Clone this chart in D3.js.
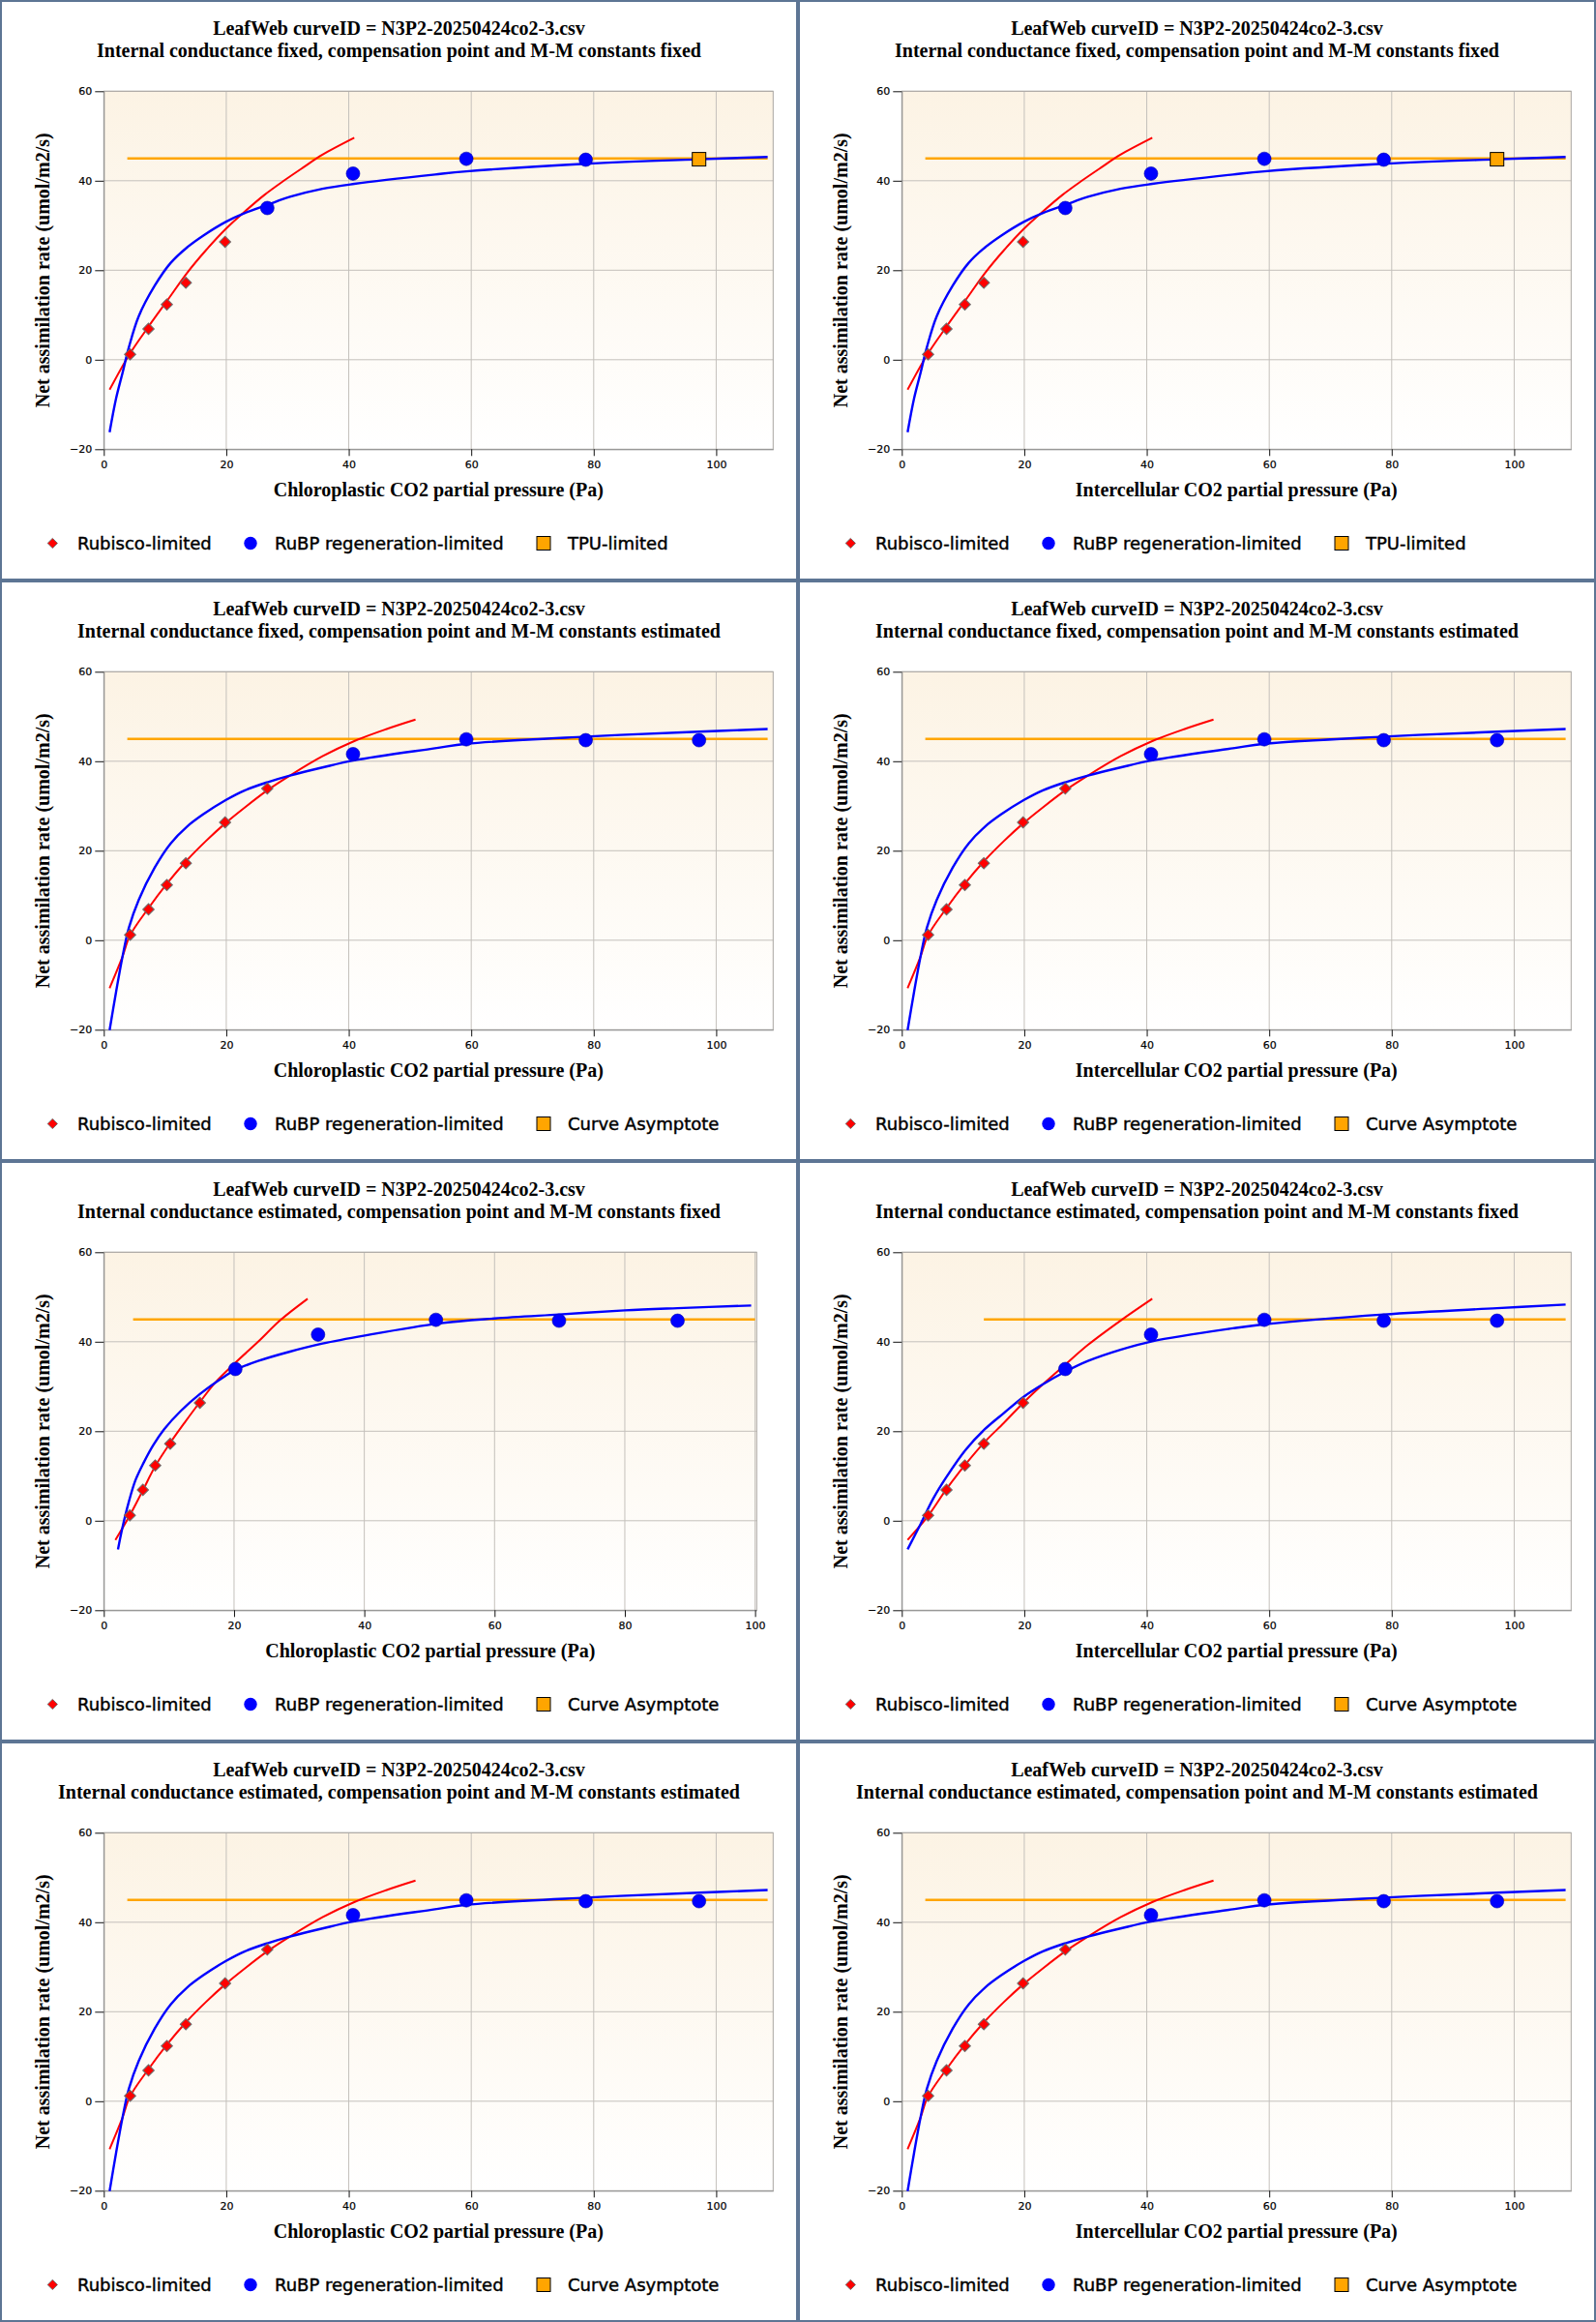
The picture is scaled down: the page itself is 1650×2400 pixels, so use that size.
<!DOCTYPE html>
<html><head><meta charset="utf-8">
<script src="https://cdn.jsdelivr.net/npm/d3@7"></script>
<style>body{margin:0;background:#fff}</style>
</head><body><svg id="c" width="1650" height="2400"></svg>
<script>
// ---------- data ----------
const yTicks = [-20, 0, 20, 40, 60];
const xTicks = [0, 20, 40, 60, 80, 100];

// Set A: everything fixed (row 1)
const rubiscoA = [[4.3,1.2],[7.3,6.9],[10.3,12.35],[13.4,17.2],[19.8,26.35]];
const rubpA = [[26.7,33.9],[40.7,41.6],[59.2,44.9],[78.7,44.7]];
const tpuA = [[97.2,44.8]];
const rubiscoCurveA = [[0.95,-6.7],[4.1,1.0],[7.3,7.4],[10.4,13.3],[13.6,19.4],[16.7,24.5],[19.9,29.2],[23.1,33.2],[26.2,36.8],[29.4,40.0],[32.5,42.9],[35.7,45.8],[40.9,49.6]];
const rubpCurveA = [[0.95,-16.2],[2.0,-8.7],[3.05,-3.0],[4.1,2.8],[5.7,9.7],[8.3,16.5],[10.9,21.6],[13.6,25.1],[16.2,27.7],[19.9,30.8],[23.05,32.8],[26.7,34.6],[30.4,36.4],[35.7,38.2],[40.9,39.3],[54.1,41.4],[59.2,42.1],[78.7,43.8],[97.2,44.8],[108.4,45.3]];
const asymptoteA = [[3.84,45.0],[108.4,45.0]];

// Set B: compensation point and M-M constants estimated (rows 2 and 4)
const rubiscoB = [[4.3,1.2],[7.3,6.9],[10.3,12.35],[13.4,17.2],[19.8,26.35],[26.7,33.9]];
const rubpB = [[40.7,41.6],[59.2,44.9],[78.7,44.7],[97.2,44.7]];
const rubiscoCurveB = [[0.95,-10.7],[3.05,-3.7],[4.26,1.0],[7.26,7.1],[10.4,12.8],[13.6,17.9],[16.7,22.2],[19.9,26.2],[23.05,29.7],[26.7,33.5],[30.4,36.8],[35.7,41.1],[40.9,44.5],[46.2,47.2],[50.9,49.3]];
const rubpCurveB = [[0.95,-20.1],[2.0,-11.6],[3.05,-3.7],[4.1,2.8],[5.7,9.0],[8.3,16.2],[10.9,21.6],[13.6,25.4],[16.2,28.1],[19.9,31.3],[23.05,33.5],[26.7,35.3],[30.4,36.8],[35.7,38.6],[40.9,40.2],[54.1,42.9],[59.2,43.9],[78.7,45.5],[97.2,46.6],[108.4,47.2]];
const asymptoteB = [[3.84,45.0],[108.4,45.0]];

// Set C: internal conductance estimated, chloroplastic (row 3 left)
const rubiscoC = [[4.0,1.2],[6.0,6.9],[7.9,12.35],[10.2,17.2],[14.75,26.35]];
const rubpC = [[20.2,33.9],[32.9,41.6],[51.0,44.9],[69.9,44.7],[88.1,44.7]];
const rubiscoCurveC = [[1.78,-4.3],[4.0,1.2],[6.0,6.8],[7.9,12.2],[10.2,17.4],[12.5,22.1],[14.75,26.5],[17.2,31.0],[20.2,35.3],[23.7,40.0],[27.1,44.8],[31.3,49.6]];
const rubpCurveC = [[2.18,-6.4],[2.87,-1.5],[3.86,4.3],[4.85,9.0],[6.1,12.9],[7.6,16.9],[9.3,20.5],[11.8,24.5],[14.75,28.3],[18.7,32.4],[20.2,33.7],[23.7,35.7],[28.6,37.8],[33.6,39.6],[40.1,41.4],[51.5,44.1],[60,45.2],[69.9,46.1],[80,47.0],[88.1,47.5],[99.4,48.1]];
const asymptoteC = [[4.5,45.0],[100,45.0]];

// Set D: internal conductance estimated, intercellular (row 3 right)
const rubiscoD = [[4.3,1.2],[7.3,6.9],[10.3,12.35],[13.4,17.2],[19.8,26.35]];
const rubpD = [[26.7,33.9],[40.7,41.6],[59.2,44.9],[78.7,44.7],[97.2,44.7]];
const rubiscoCurveD = [[0.95,-4.3],[4.26,1.0],[7.26,7.0],[10.26,12.35],[13.4,17.4],[16.7,21.9],[19.84,26.35],[23.05,30.5],[26.7,34.9],[30.4,39.3],[35.7,44.7],[40.9,49.6]];
const rubpCurveD = [[0.95,-6.4],[3.05,-0.8],[5.16,5.0],[7.26,9.7],[10.4,15.8],[13.6,20.5],[16.7,24.1],[19.9,27.7],[23.05,30.5],[26.7,33.3],[30.4,35.7],[35.7,38.2],[40.9,40.1],[54.1,43.0],[59.2,43.9],[78.7,46.1],[97.2,47.5],[108.4,48.3]];
const asymptoteD = [[13.4,45.0],[108.4,45.0]];

const titleLine1 = "LeafWeb curveID = N3P2-20250424co2-3.csv";
const subtitles = [
  "Internal conductance fixed, compensation point and M-M constants fixed",
  "Internal conductance fixed, compensation point and M-M constants estimated",
  "Internal conductance estimated, compensation point and M-M constants fixed",
  "Internal conductance estimated, compensation point and M-M constants estimated"
];
const xLabels = ["Chloroplastic CO2 partial pressure (Pa)", "Intercellular CO2 partial pressure (Pa)"];
const yLabel = "Net assimilation rate (umol/m2/s)";
const legendLabels = ["Rubisco-limited", "RuBP regeneration-limited"];
const legendThird = ["TPU-limited", "Curve Asymptote"];

const sets = {
  A: {rubisco: rubiscoA, rubp: rubpA, tpu: tpuA, rc: rubiscoCurveA, bc: rubpCurveA, asym: asymptoteA},
  B: {rubisco: rubiscoB, rubp: rubpB, tpu: [], rc: rubiscoCurveB, bc: rubpCurveB, asym: asymptoteB},
  C: {rubisco: rubiscoC, rubp: rubpC, tpu: [], rc: rubiscoCurveC, bc: rubpCurveC, asym: asymptoteC},
  D: {rubisco: rubiscoD, rubp: rubpD, tpu: [], rc: rubiscoCurveD, bc: rubpCurveD, asym: asymptoteD}
};
const panels = [
  {row:0,col:0,set:'A',xMax:109.3,w:692,leg:0},
  {row:0,col:1,set:'A',xMax:109.3,w:692,leg:0},
  {row:1,col:0,set:'B',xMax:109.3,w:692,leg:1},
  {row:1,col:1,set:'B',xMax:109.3,w:692,leg:1},
  {row:2,col:0,set:'C',xMax:100.25,w:675,leg:1},
  {row:2,col:1,set:'D',xMax:109.3,w:692,leg:1},
  {row:3,col:0,set:'B',xMax:109.3,w:692,leg:1},
  {row:3,col:1,set:'B',xMax:109.3,w:692,leg:1}
];

// ---------- drawing ----------
const PW = 825, PH = 600, L = 107.3, T = 94.3, H = 370;
const serif = "'Liberation Serif','Times New Roman',serif";
const sans = "'DejaVu Sans',Verdana,sans-serif";
const svg = d3.select('#c');
const defs = svg.append('defs');
const grad = defs.append('linearGradient').attr('id','bg').attr('x1',0).attr('y1',0).attr('x2',0).attr('y2',1);
grad.append('stop').attr('offset','0%').attr('stop-color','#fcf3e4');
grad.append('stop').attr('offset','100%').attr('stop-color','#ffffff');

panels.forEach(p => {
  const d = sets[p.set];
  const g = svg.append('g').attr('transform', `translate(${p.col*PW},${p.row*PH})`);
  const x = d3.scaleLinear().domain([0, p.xMax]).range([L, L + p.w]);
  const y = d3.scaleLinear().domain([-20, 60]).range([T + H, T]);

  g.append('rect').attr('x', L).attr('y', T).attr('width', p.w).attr('height', H).attr('fill', 'url(#bg)');
  // grid
  g.append('g').selectAll('line').data(xTicks.filter(v => v > 0)).join('line')
    .attr('x1', v => x(v)).attr('x2', v => x(v)).attr('y1', T).attr('y2', T + H)
    .attr('stroke', '#c4c0bb').attr('stroke-width', 1);
  g.append('g').selectAll('line').data(yTicks.filter(v => v > -20)).join('line')
    .attr('x1', L).attr('x2', L + p.w).attr('y1', v => y(v)).attr('y2', v => y(v))
    .attr('stroke', '#c4c0bb').attr('stroke-width', 1);
  g.append('rect').attr('x', L).attr('y', T).attr('width', p.w).attr('height', H)
    .attr('fill', 'none').attr('stroke', '#a9a6a2').attr('stroke-width', 1);

  // axes
  const ax = g.append('g').attr('transform', `translate(0,${T + H})`)
    .call(d3.axisBottom(x).tickValues(xTicks).tickSize(7).tickSizeOuter(0).tickPadding(5).tickFormat(d3.format('d')));
  const ay = g.append('g').attr('transform', `translate(${L},0)`)
    .call(d3.axisLeft(y).tickValues(yTicks).tickSize(9).tickSizeOuter(0).tickPadding(3).tickFormat(d3.format('d')));
  [ax, ay].forEach(a => {
    a.attr('font-family', sans).attr('font-size', 11);
    a.select('.domain').attr('stroke', '#8a8a8a');
    a.selectAll('.tick line').attr('stroke', '#111');
    a.selectAll('.tick text').attr('fill', '#000').attr('stroke', '#000').attr('stroke-width', 0.2);
  });

  // lines
  const line = d3.line().x(v => x(v[0])).y(v => y(v[1])).curve(d3.curveCatmullRom.alpha(0.5));
  g.append('path').datum(d.asym).attr('d', d3.line().x(v => x(v[0])).y(v => y(v[1])))
    .attr('fill', 'none').attr('stroke', '#ffa500').attr('stroke-width', 2.6);
  g.append('path').datum(d.rc).attr('d', line).attr('fill', 'none').attr('stroke', '#ff0000').attr('stroke-width', 2);
  g.append('path').datum(d.bc).attr('d', line).attr('fill', 'none').attr('stroke', '#0000ff').attr('stroke-width', 2.4);

  // markers
  const diamond = d3.symbol().type(d3.symbolSquare).size(68);
  g.append('g').selectAll('path').data(d.rubisco).join('path')
    .attr('d', diamond)
    .attr('transform', v => `translate(${x(v[0])},${y(v[1])}) rotate(45)`)
    .attr('fill', '#ff0000').attr('stroke', '#6b6b6b').attr('stroke-width', 1);
  g.append('g').selectAll('circle').data(d.rubp).join('circle')
    .attr('cx', v => x(v[0])).attr('cy', v => y(v[1])).attr('r', 7)
    .attr('fill', '#0000ff').attr('stroke', '#0000b0').attr('stroke-width', 0.6);
  g.append('g').selectAll('rect').data(d.tpu).join('rect')
    .attr('x', v => x(v[0]) - 7).attr('y', v => y(v[1]) - 7).attr('width', 14).attr('height', 14)
    .attr('fill', '#ffa500').attr('stroke', '#000').attr('stroke-width', 1);

  // titles
  const fs = 20;
  g.append('text').attr('x', PW / 2).attr('y', 36).attr('text-anchor', 'middle')
    .attr('font-family', serif).attr('font-weight', 'bold').attr('font-size', fs).text(titleLine1);
  g.append('text').attr('x', PW / 2).attr('y', 58.5).attr('text-anchor', 'middle')
    .attr('font-family', serif).attr('font-weight', 'bold').attr('font-size', fs).text(subtitles[p.row]);
  g.append('text').attr('x', L + p.w / 2).attr('y', 512.5).attr('text-anchor', 'middle')
    .attr('font-family', serif).attr('font-weight', 'bold').attr('font-size', fs).text(xLabels[p.col]);
  g.append('text').attr('transform', `translate(51,${T + H / 2}) rotate(-90)`).attr('text-anchor', 'middle')
    .attr('font-family', serif).attr('font-weight', 'bold').attr('font-size', fs).text(yLabel);

  // legend
  const ly = 561.5;
  const lg = g.append('g');
  lg.append('path').attr('d', d3.symbol().type(d3.symbolSquare).size(52))
    .attr('transform', `translate(54.3,${ly}) rotate(45)`)
    .attr('fill', '#ff0000').attr('stroke', '#6b6b6b').attr('stroke-width', 0.9);
  lg.append('circle').attr('cx', 259).attr('cy', ly).attr('r', 6.7).attr('fill', '#0000ff');
  lg.append('rect').attr('x', 555).attr('y', ly - 7).attr('width', 14).attr('height', 14)
    .attr('fill', '#ffa500').attr('stroke', '#000').attr('stroke-width', 1);
  const labels = [legendLabels[0], legendLabels[1], legendThird[p.leg]];
  const lx = [80, 284, 587];
  labels.forEach((t, i) => {
    lg.append('text').attr('x', lx[i]).attr('y', 568.3).attr('font-family', sans).attr('font-size', 18)
      .attr('fill', '#000').attr('stroke', '#000').attr('stroke-width', 0.45).text(t);
  });

  // panel border
  g.append('rect').attr('x', 0).attr('y', 0).attr('width', PW).attr('height', PH)
    .attr('fill', 'none').attr('stroke', '#5d7594').attr('stroke-width', 4);
});
</script></body></html>
